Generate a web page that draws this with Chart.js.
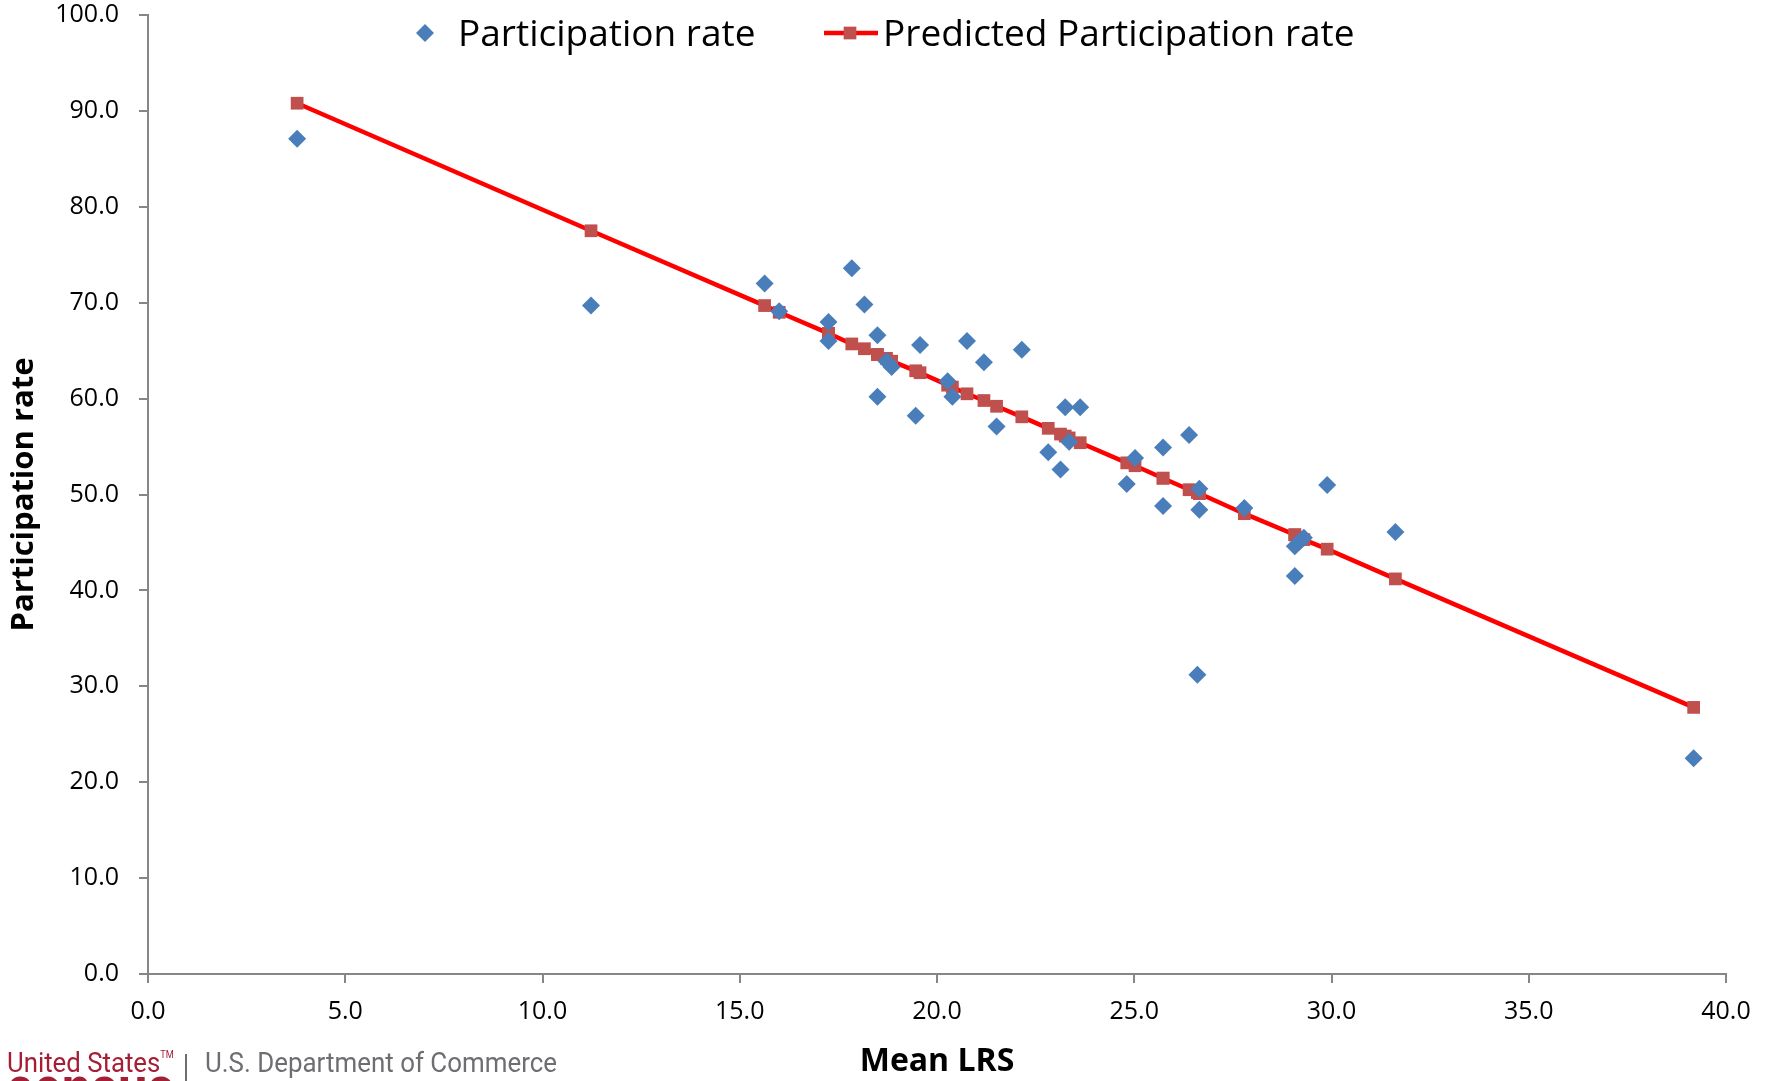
<!DOCTYPE html>
<html>
<head>
<meta charset="utf-8">
<title>Participation rate by Mean LRS</title>
<script src="https://cdn.jsdelivr.net/npm/chart.js@4.4.1/dist/chart.umd.min.js"></script>
<style>
    html, body { margin: 0; padding: 0; background: #fff; overflow: hidden; }
    #wrap { position: relative; width: 1768px; height: 1081px; overflow: hidden; }
    #lrsChart { position: absolute; left: 0; top: 0; }
    .logo { position: absolute; font-family: Roboto, sans-serif; line-height: 1; white-space: nowrap; transform-origin: left top; }
    .logo-us { left: 7px; top: 1049px; font-size: 28px; color: #A41E35; transform: scaleX(0.92); }
    .logo-us sup { font-size: 10px; vertical-align: 14px; }
    .logo-sep { position: absolute; left: 185px; top: 1054px; width: 2px; height: 30px; background: #6D6E71; }
    .logo-dept { left: 205px; top: 1049px; font-size: 28px; color: #6D6E71; transform: scaleX(0.925); }
    .logo-census { left: 6px; top: 1058px; font-size: 64px; font-weight: bold; color: #A41E35; transform: scaleX(0.82); }
</style>
</head>
<body>
<div id="wrap">
    <canvas id="lrsChart"></canvas>
    <div class="logo logo-census">census</div>
    <div class="logo logo-us">United States<sup>TM</sup></div>
    <div class="logo-sep"></div>
    <div class="logo logo-dept">U.S. Department of Commerce</div>
</div>
<script>
// values
const meanLRS = [3.78, 11.23, 15.63, 16.00, 17.25, 17.25, 17.84, 18.16, 18.49, 18.49,
    18.72, 18.85, 19.46, 19.57, 20.27, 20.39, 20.76, 21.19, 21.51, 22.15,
    22.82, 23.13, 23.25, 23.35, 23.63, 24.81, 25.02, 25.73, 25.73, 26.39,
    26.60, 26.65, 26.65, 27.79, 29.07, 29.07, 29.19, 29.30, 29.89, 31.62, 39.18];

const participationRate = [87.1, 69.7, 72.0, 69.1, 68.0, 66.0, 73.6, 69.8, 66.6, 60.2,
    63.9, 63.3, 58.2, 65.6, 61.8, 60.2, 66.0, 63.8, 57.1, 65.1,
    54.4, 52.6, 59.1, 55.5, 59.1, 51.1, 53.8, 54.9, 48.8, 56.2,
    31.2, 50.6, 48.4, 48.6, 44.6, 41.5, 45.1, 45.5, 51.0, 46.1, 22.5];

const predictedRate = [90.8, 77.5, 69.7, 69.0, 66.8, 66.8, 65.7, 65.2, 64.6, 64.6,
    64.2, 63.9, 62.9, 62.7, 61.4, 61.2, 60.5, 59.8, 59.2, 58.1,
    56.9, 56.3, 56.1, 55.9, 55.4, 53.3, 53.0, 51.7, 51.7, 50.5,
    50.2, 50.1, 50.1, 48.0, 45.8, 45.8, 45.5, 45.3, 44.3, 41.2, 27.8];

const xTickValues = [0, 5, 10, 15, 20, 25, 30, 35, 40];
const yTickValues = [0, 10, 20, 30, 40, 50, 60, 70, 80, 90, 100];

const seriesNames = ['Participation rate', 'Predicted Participation rate'];

document.addEventListener('DOMContentLoaded', () => {
    const canvas = document.getElementById('lrsChart');

    Chart.defaults.font.family = "'Open Sans', sans-serif";
    Chart.defaults.color = '#000';

    const axisGray = '#868686';
    const fmt = v => Number(v).toFixed(1);

    // legend drawn inside the plot, like the Excel original
    const plotLegend = {
        id: 'plotLegend',
        afterDatasetsDraw(chart) {
            const { ctx } = chart;
            const [obs, pred] = chart.data.datasets;
            ctx.save();

            ctx.fillStyle = obs.pointBackgroundColor;
            ctx.strokeStyle = obs.pointBackgroundColor;
            Chart.helpers.drawPoint(ctx, { pointStyle: 'rectRot', radius: 9, rotation: 0, borderWidth: 0 }, 425, 33);

            ctx.beginPath();
            ctx.strokeStyle = pred.borderColor;
            ctx.lineWidth = 4.5;
            ctx.moveTo(824, 33);
            ctx.lineTo(878, 33);
            ctx.stroke();
            ctx.fillStyle = pred.pointBackgroundColor;
            ctx.strokeStyle = pred.pointBackgroundColor;
            Chart.helpers.drawPoint(ctx, { pointStyle: 'rect', radius: 9, rotation: 0, borderWidth: 0 }, 850, 33);

            ctx.fillStyle = '#000';
            ctx.font = "37px 'Open Sans', sans-serif";
            ctx.textBaseline = 'alphabetic';
            ctx.textAlign = 'left';
            ctx.fillText(obs.label, 458, 46);
            ctx.fillText(pred.label, 883, 46);
            ctx.restore();
        }
    };

    new Chart(canvas.getContext('2d'), {
        type: 'scatter',
        data: {
            datasets: [{
                label: seriesNames[0],
                data: meanLRS.map((x, i) => ({ x: x, y: participationRate[i] })),
                showLine: false,
                pointStyle: 'rectRot',
                pointRadius: 9,
                pointBackgroundColor: '#4A7EBB',
                pointBorderColor: '#4A7EBB',
                pointBorderWidth: 0,
                order: 0
            }, {
                label: seriesNames[1],
                data: meanLRS.map((x, i) => ({ x: x, y: predictedRate[i] })),
                showLine: true,
                borderColor: '#FF0000',
                borderWidth: 4.5,
                tension: 0,
                pointStyle: 'rect',
                pointRadius: 9,
                pointBackgroundColor: '#C0504D',
                pointBorderColor: '#C0504D',
                pointBorderWidth: 0,
                order: 1
            }]
        },
        options: {
            responsive: true,
            maintainAspectRatio: false,
            animation: false,
            events: [],
            layout: { padding: { left: 0, right: 42, top: 15, bottom: 0 } },
            plugins: {
                legend: { display: false },
                tooltip: { enabled: false }
            },
            scales: {
                x: {
                    type: 'linear',
                    min: 0,
                    max: 40,
                    afterBuildTicks: s => { s.ticks = xTickValues.map(value => ({ value })); },
                    afterFit: s => { s.height = 107; s.paddingLeft = 0; s.paddingRight = 0; },
                    grid: { drawOnChartArea: false, drawTicks: true, tickLength: 9, color: axisGray, lineWidth: 2 },
                    border: { display: true, color: axisGray, width: 2 },
                    ticks: { padding: 14, font: { size: 25 }, color: '#000', maxRotation: 0, callback: fmt },
                    title: {
                        display: true,
                        text: 'Mean LRS',
                        color: '#000',
                        font: { size: 32, weight: 'bold' },
                        padding: { top: 0, bottom: 0 }
                    }
                },
                y: {
                    type: 'linear',
                    min: 0,
                    max: 100,
                    afterBuildTicks: s => { s.ticks = yTickValues.map(value => ({ value })); },
                    afterFit: s => { s.width = 148; s.paddingTop = 0; s.paddingBottom = 0; },
                    grid: { drawOnChartArea: false, drawTicks: true, tickLength: 9, color: axisGray, lineWidth: 2 },
                    border: { display: true, color: axisGray, width: 2 },
                    ticks: { padding: 20, font: { size: 25 }, color: '#000', callback: fmt },
                    title: {
                        display: true,
                        text: 'Participation rate',
                        color: '#000',
                        font: { size: 31, weight: 'bold' },
                        padding: { top: 6, bottom: 0 }
                    }
                }
            }
        },
        plugins: [plotLegend]
    });
});
</script>
</body>
</html>
